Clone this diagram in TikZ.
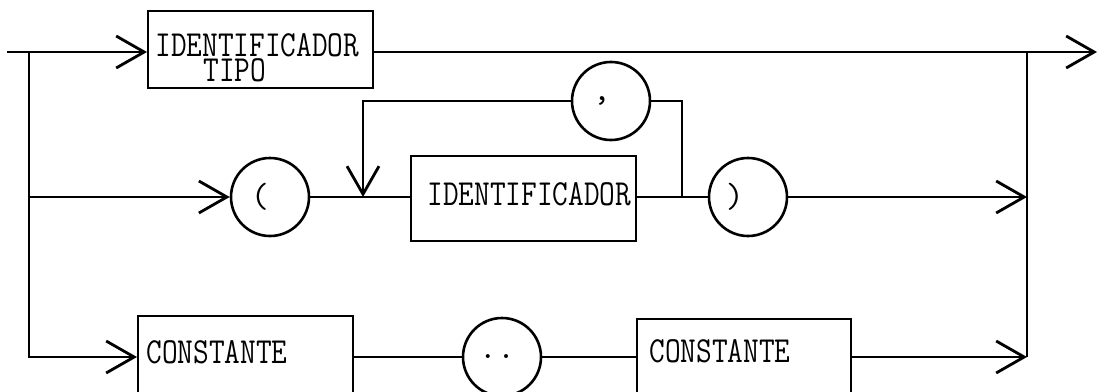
\documentclass[tikz,border=0pt]{standalone}
\usepackage{fontspec}
\usepackage{graphicx}
\usetikzlibrary{arrows.meta}
\newcommand\ttw{\fontsize{17.5}{20}\selectfont\ttfamily}
\newcommand\cond[1]{\scalebox{0.87}[1.05]{#1}}
\tikzset{
  rail/.style={line width=1.4pt},
  railto/.style={rail, -{Straight Barb[length=14pt,width=16pt,line width=1.4pt]}},
  box/.style={draw, line width=1pt, rectangle, inner sep=0pt, anchor=north west},
  term/.style={draw, circle, line width=1.3pt, minimum size=39pt, inner sep=0pt, font=\ttw},
  lbl/.style={anchor=base west, inner sep=0pt, font=\ttw},
}
\begin{document}
\begin{tikzpicture}[x=0.5pt,y=-0.5pt]
\useasboundingbox (0,0) rectangle (1098,391);
\clip (0,0) rectangle (1098,391);

% boxes with their labels
\node[box, minimum width=112.5pt, minimum height=38.5pt] (tipo) at (147,10) {};
\node[lbl] (tipoA) at (155,56) {\vtop{\baselineskip=12.6pt\lineskiplimit=-100pt
  \hbox{\cond{IDENTIFICADOR}}\hbox{\hspace*{24pt}\cond{TIPO}}}};

\node[box, minimum width=112.5pt, minimum height=42.5pt] (ident) at (410,155) {};
\node[lbl] (identA) at (427,205) {\cond{IDENTIFICADOR}};

\node[box, minimum width=107.5pt, minimum height=45pt] (constA) at (137,315) {};
\node[lbl] (constAl) at (146,363) {\cond{CONSTANTE}};

\node[box, minimum width=107pt, minimum height=45pt] (constB) at (636,318) {};
\node[lbl] (constBl) at (649,362) {\cond{CONSTANTE}};

% terminal symbols
\node[term] (lpar) at (270,197) {\kern-10pt(};
\node[term] (comma) at (611,101) {\kern-9pt\raisebox{-2pt}{,}};
\node[term] (rpar) at (748,197) {\kern-13pt)};
\node[term] (dots) at (502,357) {\kern-5pt\raisebox{-1pt}{..}};

% junction points
\coordinate (in) at (7,52);
\coordinate (out) at (1097,52);
\coordinate (jl1) at (29,52);
\coordinate (jl2) at (29,197);
\coordinate (jl3) at (29,357);
\coordinate (jr1) at (1027,52);
\coordinate (jr2) at (1027,197);
\coordinate (jr3) at (1027,357);
\coordinate (lpA) at (363,197);
\coordinate (lpTL) at (363,101);
\coordinate (lpR) at (682,197);
\coordinate (lpTR) at (682,101);

% top route
\draw[railto] (in) -- (tipo.west |- in);
\draw[railto] (tipo.east |- in) -- (out);

% left trunk and bottom route
\draw[railto] (jl1) -- (jl3) -- (constA.west |- jl3);
\draw[rail] (constA.east |- jl3) -- (dots);
\draw[rail] (dots) -- (constB.west |- jl3);
\draw[railto] (constB.east |- jl3) -- (jr3);

% middle route with the list loop
\draw[railto] (jl2) -- (lpar);
\draw[rail] (lpar) -- (ident.west |- jl2);
\draw[rail] (ident.east |- jl2) -- (rpar);
\draw[rail] (lpR) -- (lpTR) -- (comma);
\draw[railto] (comma) -- (lpTL) -- (lpA);
\draw[railto] (rpar) -- (jr2);

% right trunk
\draw[rail] (jr1) -- (jr3);
\end{tikzpicture}
\end{document}
